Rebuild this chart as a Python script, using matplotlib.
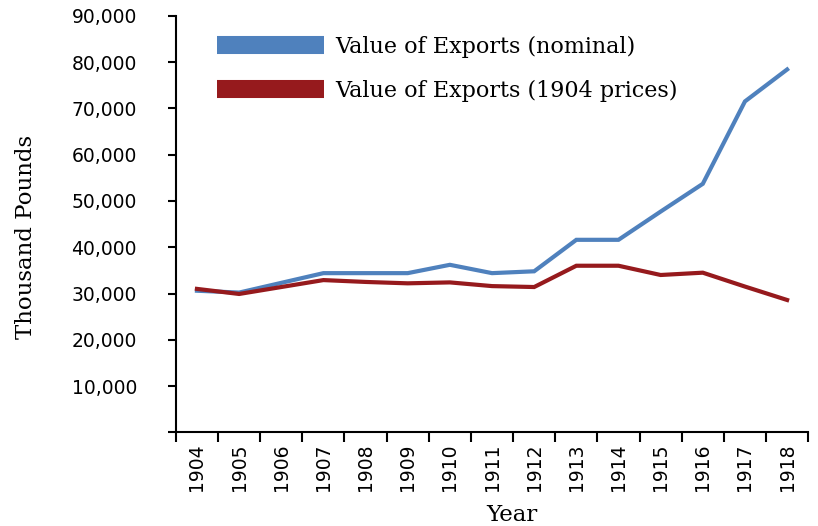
import matplotlib.pyplot as plt
import numpy as np
from matplotlib.lines import Line2D
from matplotlib.ticker import FuncFormatter

years = ['1904', '1905', '1906', '1907', '1908', '1909', '1910', '1911',
         '1912', '1913', '1914', '1915', '1916', '1917', '1918']
exports_nominal = [30.6, 30.2, 32.3, 34.4, 34.4, 34.4, 36.2, 34.4,
                   34.8, 41.6, 41.6, 47.7, 53.7, 71.5, 78.4]
exports_1904_prices = [31.0, 29.9, 31.4, 32.9, 32.5, 32.2, 32.4, 31.6,
                       31.4, 36.0, 36.0, 34.0, 34.5, 31.5, 28.6]

blue = '#4F81BD'
red = '#961A1D'
serif = ['DejaVu Serif Condensed', 'DejaVu Serif']

fig = plt.figure(figsize=(8.18, 5.26), dpi=100)
ax = fig.add_axes([0.215, 0.178, 0.773, 0.792])

x = np.arange(len(years))
ax.plot(x, np.array(exports_nominal) * 1000, color=blue, lw=3,
        solid_joinstyle='miter')
ax.plot(x, np.array(exports_1904_prices) * 1000, color=red, lw=3,
        solid_joinstyle='miter')

ax.set_xlim(-0.5, len(years) - 0.5)
ax.set_ylim(0, 90000)
ax.set_yticks(np.arange(0, 90001, 10000))
# no label at zero, like the original
ax.yaxis.set_major_formatter(FuncFormatter(lambda v, p: f'{int(v):,}' if v > 0 else ''))

# category ticks between years, labels at the centers
ax.set_xticks(np.arange(-0.5, len(years), 1.0))
ax.set_xticklabels([])
ax.set_xticks(x, minor=True)
ax.set_xticklabels(years, minor=True, rotation=90, fontsize=13.5)
ax.tick_params(axis='x', which='major', length=7.5, width=1.5, direction='out')
ax.tick_params(axis='x', which='minor', length=0, pad=8)
ax.tick_params(axis='y', length=6, width=1.5, labelsize=13.5, pad=22)

for s in ['top', 'right']:
    ax.spines[s].set_visible(False)
for s in ['left', 'bottom']:
    ax.spines[s].set_linewidth(1.5)

ax.set_ylabel('Thousand Pounds', family=serif, fontsize=16.5)
ax.yaxis.set_label_coords(-0.220, 0.469)
ax.set_xlabel('Year', family=serif, fontsize=16.5)
ax.xaxis.set_label_coords(0.532, -0.172)

handles = [Line2D([], [], color=blue, lw=13, solid_capstyle='butt'),
           Line2D([], [], color=red, lw=13, solid_capstyle='butt')]
ax.legend(handles, ['Value of Exports (nominal)', 'Value of Exports (1904 prices)'],
          loc='upper left', bbox_to_anchor=(0.034, 1.0), frameon=False,
          prop={'family': serif, 'size': 16}, handlelength=4.8,
          handletextpad=0.5, labelspacing=1.0)

plt.savefig('out.png', dpi=100)
